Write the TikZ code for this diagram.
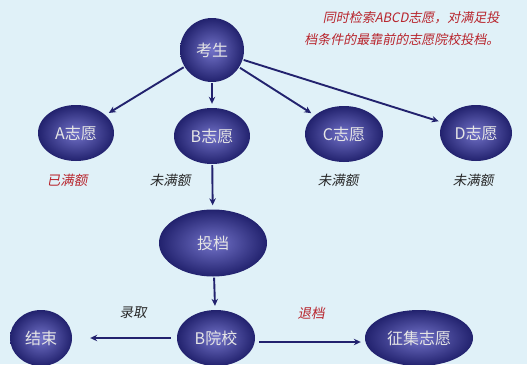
\documentclass[tikz,border=0pt]{standalone}
\usepackage{fontspec}
\newfontfamily\cjk{Noto Sans CJK SC}
\newfontfamily\cjkit[FakeSlant=0.2]{Noto Sans CJK SC}
\usetikzlibrary{shapes.geometric,arrows.meta}
\definecolor{bg}{HTML}{E0F1F8}
\definecolor{navy}{HTML}{22226E}
\definecolor{ballin}{HTML}{7272C8}
\definecolor{lblred}{HTML}{B8242C}
\tikzset{
  ball/.style={ellipse, shading=radial, inner color=ballin, outer color=navy,
    text=white!90!black, font=\cjk\fontsize{16}{18}\selectfont, inner sep=0pt},
  link/.style={navy, line width=1.9pt, -{Stealth[length=7pt,width=6.5pt]}, shorten >=4pt, shorten <=1pt},
  tag/.style={font=\cjkit\fontsize{13.5}{15}\selectfont, text=black!85},
}
\begin{document}
\begin{tikzpicture}[x=1pt,y=-1pt]
			%%%%% START %%%%%
			\fill[bg] (0,0) rectangle (527,364);
			\useasboundingbox (0,0) rectangle (527,364);
			
			\node[ball, minimum width=64pt, minimum height=64pt] (ks) at (212,50) {考生};
			
			\node[ball, minimum width=76pt, minimum height=56pt] (az) at (76,133) {A志愿};
			\node[ball, minimum width=76pt, minimum height=56pt] (bz) at (212,136) {B志愿};
			\node[ball, minimum width=78pt, minimum height=56pt] (cz) at (344,134) {C志愿};
			\node[ball, minimum width=72pt, minimum height=56pt] (dz) at (476,133) {D志愿};
			
			\node[ball, minimum width=108pt, minimum height=67pt] (td) at (213,243) {投档};
			
			\node[ball, minimum width=78pt, minimum height=56pt] (byx) at (216,338) {B院校};
			\node[ball, minimum width=62pt, minimum height=56pt] (js) at (41,338) {结束};
			\node[ball, minimum width=108pt, minimum height=56pt] (zj) at (419,338) {征集志愿};
			
			% labels
			\node[tag, text=lblred] (l1) at (67,180) {已满额};
			\node[tag] (l2) at (170,180) {未满额};
			\node[tag] (l3) at (338,180) {未满额};
			\node[tag] (l4) at (473,180) {未满额};
			\node[tag] (l5) at (133,313) {录取};
			\node[tag, text=lblred] (l6) at (311,313) {退档};
			
			\node[font=\cjkit\fontsize{13}{22}\selectfont, text=lblred, align=right, anchor=east] (note) at (503,29)
			  {同时检索ABCD志愿，对满足投\\档条件的最靠前的志愿院校投档。};
			
			% arrows
			\draw[link] (ks) -- (az);
			\draw[link] (ks) -- (bz);
			\draw[link] (ks) -- (cz);
			\draw[link] (ks) -- (dz);
			\draw[link] (bz) -- (td);
			\draw[link] (td) -- (byx);
			\draw[link, shorten <=6pt, shorten >=18pt] (byx) -- (js);
			\draw[link, shorten <=4pt] (byx.east |- 0,342) -- (zj.west |- 0,342);
			%%%%% END %%%%%
		\end{tikzpicture}
\end{document}
